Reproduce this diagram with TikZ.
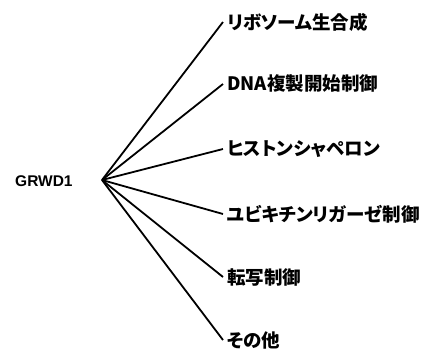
\documentclass[tikz,border=0pt]{standalone}
\usepackage{fontspec}
\setmainfont{Liberation Sans}
\newfontfamily\jp{Noto Sans CJK JP}[RawFeature=+palt]
\begin{document}
\begin{tikzpicture}[x=1pt,y=-1pt,
  lbl/.style={anchor=west,inner sep=0pt,font=\jp\bfseries\fontsize{18.5}{20}\selectfont},
  link/.style={line width=1.8pt}]
\useasboundingbox (0,0) rectangle (424,349);
\node[anchor=west,inner sep=0pt,font=\bfseries\fontsize{15.5}{18}\selectfont] (g) at (15,181.5) {GRWD1};
\coordinate (hub) at (102,180);
\node[lbl] (a) at (227,22) {リボソーム生合成};
\node[lbl] (b) at (227,84) {DNA複製開始制御};
\node[lbl] (c) at (227,149) {ヒストンシャペロン};
\node[lbl] (d) at (227,214) {ユビキチンリガーゼ制御};
\node[lbl] (e) at (227,277) {転写制御};
\node[lbl] (f) at (227,340) {その他};
\foreach \n in {a,b,c,d,e,f}
  \draw[link] (hub) -- ([xshift=-4pt]\n.west);
\end{tikzpicture}
\end{document}
